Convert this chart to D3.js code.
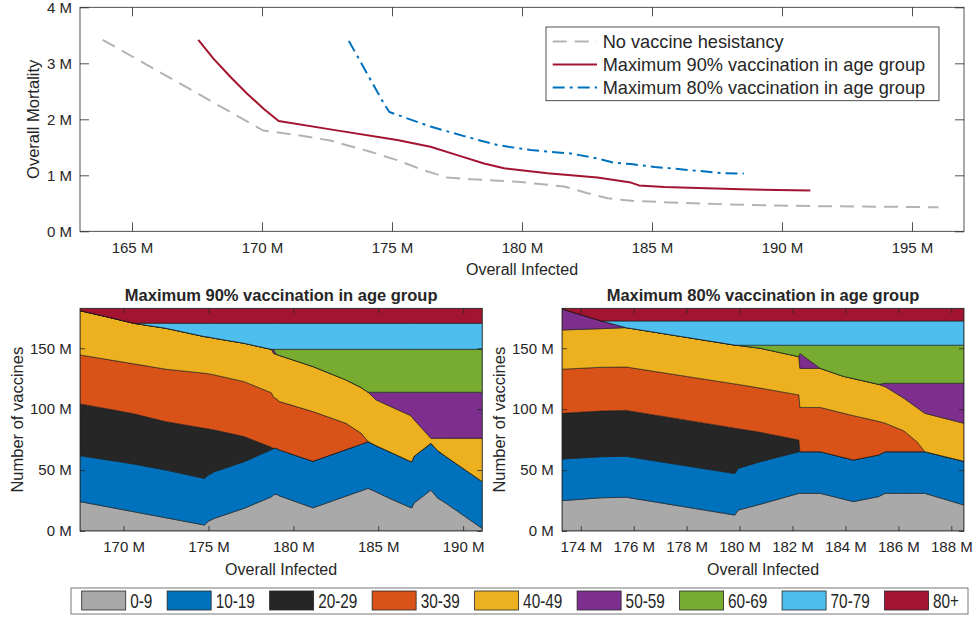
<!DOCTYPE html>
<html>
<head>
<meta charset="utf-8">
<script src="https://cdn.jsdelivr.net/npm/d3@7/dist/d3.min.js"></script>
<style>
body { margin: 0; background: #fff; }
text { font-family: "Liberation Sans", Arial, Helvetica, sans-serif; fill: #262626; }
</style>
</head>
<body>
<script>

// ---- top panel: mortality vs infected (millions) ----
var noHesX = [163.87, 170.04, 171.47, 172.63, 174.17, 175.2, 176.22, 177.12, 178.02, 179.82, 181.62, 182.52, 183.29, 183.8, 184.3, 186.1, 188.68, 191.25, 196.02];
var noHesY = [3.42, 1.80, 1.71, 1.62, 1.42, 1.27, 1.09, 0.96, 0.93, 0.886, 0.80, 0.68, 0.59, 0.565, 0.54, 0.51, 0.47, 0.45, 0.43];
var max90X = [167.55, 168.14, 168.78, 169.42, 170.06, 170.64, 172.63, 175.2, 176.48, 177.51, 178.54, 179.31, 180.98, 182.9, 184.19, 184.5, 185.47, 188.42, 191.09];
var max90Y = [3.42, 3.08, 2.76, 2.46, 2.19, 1.97, 1.82, 1.63, 1.51, 1.36, 1.21, 1.125, 1.035, 0.96, 0.87, 0.82, 0.79, 0.75, 0.73];
var max80X = [173.34, 174.7, 174.9, 175.2, 176.48, 177.77, 179.05, 180.33, 181.87, 182.9, 183.5, 184.19, 185.1, 186.75, 187.65, 188.53];
var max80Y = [3.40, 2.27, 2.13, 2.08, 1.87, 1.70, 1.54, 1.45, 1.39, 1.30, 1.23, 1.20, 1.15, 1.08, 1.04, 1.03];
var lineNames = ["No vaccine hesistancy", "Maximum 90% vaccination in age group", "Maximum 80% vaccination in age group"];

var topXTicks = [165, 170, 175, 180, 185, 190, 195];
var topYTicks = [0, 1, 2, 3, 4];

// ---- bottom panels: vaccines per age group (millions) ----
var ageGroups = ["0-9", "10-19", "20-29", "30-39", "40-49", "50-59", "60-69", "70-79", "80+"];
var ageColors = ["#a9a9a9", "#0072bd", "#262626", "#d95319", "#edb120", "#7e2f8e", "#77ac30", "#4dbeee", "#a2142f"];

var inf90 = [167.43, 169.0, 170.6, 172.5, 174.76, 175.0, 175.35, 177.1, 178.7, 178.85, 179.0, 179.19, 181.15, 183.1, 184.0, 184.4, 184.88, 185.66, 186.84, 186.98, 187.1, 188.1, 188.5, 189.0, 191.13];
// one row per age group, one value per point of inf90
var vac90 = [
  [24.1, 20.0, 15.8, 10.8, 4.9, 8.0, 10.4, 18.6, 28.0, 29.8, 30.1, 28.8, 19.0, 28.6, 33.0, 35.0, 32.0, 26.8, 19.6, 19.0, 22.8, 33.6, 27.0, 22.7, 2.0],
  [37.7, 38.5, 39.2, 39.2, 38.3, 38.0, 38.3, 38.3, 38.8, 37.9, 37.8, 37.7, 38.2, 38.2, 38.3, 38.3, 38.0, 38.3, 37.9, 37.9, 38.4, 38.4, 39.0, 38.3, 38.5],
  [42.5, 41.9, 41.2, 39.7, 41.1, 37.8, 34.2, 20.6, 2.0, 0, 0, 0, 0, 0, 0, 0, 0, 0, 0, 0, 0, 0, 0, 0, 0],
  [40.2, 40.5, 41.0, 43.1, 45.2, 45.2, 45.2, 45.1, 44.7, 41.8, 40.7, 39.7, 40.8, 21.6, 8.9, 0.2, 0, 0, 0, 0, 0, 0, 0, 0, 0],
  [36.4, 35.0, 33.3, 33.6, 30.1, 30.2, 30.1, 31.5, 35.6, 36.0, 36.4, 37.8, 37.0, 35.6, 37.5, 40.4, 37.6, 37.5, 37.7, 36.9, 30.3, 4.1, 10.1, 15.1, 35.6],
  [0, 0, 0, 0, 0, 0, 0, 0, 0, 3.0, 0, 0, 0, 0, 0, 0, 6.3, 11.3, 18.7, 20.1, 22.4, 37.8, 37.8, 37.8, 37.8],
  [0, 0, 0, 0, 0, 0, 0, 0, 0, 0.6, 4.1, 5.1, 14.1, 25.1, 31.4, 35.2, 35.2, 35.2, 35.2, 35.2, 35.2, 35.2, 35.2, 35.2, 35.2],
  [0, 0, 0, 4.1, 10.9, 11.3, 12.3, 16.4, 21.4, 21.4, 21.4, 21.4, 21.4, 21.4, 21.4, 21.4, 21.4, 21.4, 21.4, 21.4, 21.4, 21.4, 21.4, 21.4, 21.4],
  [1.9, 6.9, 12.3, 12.3, 12.3, 12.3, 12.3, 12.3, 12.3, 12.3, 12.3, 12.3, 12.3, 12.3, 12.3, 12.3, 12.3, 12.3, 12.3, 12.3, 12.3, 12.3, 12.3, 12.3, 12.3]
];

var inf80 = [173.29, 174.78, 175.72, 179.82, 179.95, 180.78, 182.24, 182.28, 183.05, 183.93, 184.3, 185.25, 185.5, 186.2, 186.7, 187.0, 188.48];
var vac80 = [
  [24.9, 27.3, 27.7, 13.1, 17.2, 21.9, 30.9, 30.9, 30.9, 26.1, 24.1, 28.2, 30.9, 30.9, 30.9, 30.9, 21.3],
  [34.2, 33.7, 33.6, 34.1, 34.3, 35.0, 34.2, 34.2, 34.2, 34.2, 34.2, 34.2, 34.2, 34.2, 34.2, 34.2, 35.9],
  [37.5, 37.5, 37.7, 37.2, 32.5, 24.1, 9.6, 0, 0, 0, 0, 0, 0, 0, 0, 0, 0],
  [36.2, 35.9, 35.6, 36.3, 36.3, 36.3, 37.0, 36.3, 36.3, 36.3, 36.4, 27.6, 23.4, 17.2, 8.2, 0, 0],
  [32.2, 31.7, 32.3, 31.9, 32.0, 32.7, 31.4, 32.1, 32.1, 30.3, 30.4, 30.4, 30.0, 26.8, 28.0, 31.5, 31.2],
  [17.3, 6.3, 0, 0, 0, 0, 0, 12.3, 0, 0, 0, 0, 2.8, 12.2, 20.0, 24.7, 32.9],
  [0, 0, 0, 0, 0.2, 2.5, 9.4, 6.7, 19.0, 25.6, 27.4, 32.1, 31.2, 31.2, 31.2, 31.2, 31.2],
  [0, 0, 5.5, 19.8, 19.9, 19.9, 19.9, 19.9, 19.9, 19.9, 19.9, 19.9, 19.9, 19.9, 19.9, 19.9, 19.9],
  [0.5, 10.4, 10.4, 10.4, 10.4, 10.4, 10.4, 10.4, 10.4, 10.4, 10.4, 10.4, 10.4, 10.4, 10.4, 10.4, 10.4]
];

var left90XTicks = [170, 175, 180, 185, 190];
var right80XTicks = [174, 176, 178, 180, 182, 184, 186, 188];
var vacYTicks = [0, 50, 100, 150];
var vacTotal = 182.8;

var w = 973, h = 617;
var axisColor = "#262626";

var svg = d3.select("body").append("svg")
    .attr("width", w)
    .attr("height", h);

function fmtM(d) { return d + " M"; }

// box + inward ticks, labels on bottom and left only
function drawAxes(g, x, y, xTicks, yTicks, tick, xPad, yPad, fs) {
    var x0 = x.range()[0], x1 = x.range()[1];
    var y0 = y.range()[0], y1 = y.range()[1];

    g.append("g").attr("transform", "translate(0," + y0 + ")")
      .call(d3.axisBottom(x).tickValues(xTicks).tickFormat(fmtM).tickSizeInner(-tick).tickSizeOuter(0).tickPadding(xPad));
    g.append("g").attr("transform", "translate(0," + y1 + ")")
      .call(d3.axisTop(x).tickValues(xTicks).tickFormat("").tickSizeInner(-tick).tickSizeOuter(0));
    g.append("g").attr("transform", "translate(" + x0 + ",0)")
      .call(d3.axisLeft(y).tickValues(yTicks).tickFormat(fmtM).tickSizeInner(-tick).tickSizeOuter(0).tickPadding(yPad));
    g.append("g").attr("transform", "translate(" + x1 + ",0)")
      .call(d3.axisRight(y).tickValues(yTicks).tickFormat("").tickSizeInner(-tick).tickSizeOuter(0));

    g.selectAll(".domain").remove();
    g.selectAll(".tick line").attr("stroke", axisColor).attr("stroke-width", 0.8);
    g.selectAll(".tick text").style("font-size", fs + "px").attr("fill", axisColor)
      .style("font-family", '"Liberation Sans", Arial, sans-serif');

    g.append("rect")
      .attr("x", x0).attr("y", y1)
      .attr("width", x1 - x0).attr("height", y0 - y1)
      .attr("fill", "none").attr("stroke", axisColor).attr("stroke-width", 0.8);
}

// ---------- top panel ----------
var xTop = d3.scaleLinear().domain([163, 197]).range([80, 964]);
var yTop = d3.scaleLinear().domain([0, 4]).range([231.3, 7.3]);

var topPanel = svg.append("g");

var series = [
    { xs: noHesX, ys: noHesY, color: "#b3b3b3", dash: "14,8" },
    { xs: max90X, ys: max90Y, color: "#a2142f", dash: null },
    { xs: max80X, ys: max80Y, color: "#0072bd", dash: "12,5,3,5" }
];

var line = d3.line()
    .x(function (d) { return xTop(d[0]); })
    .y(function (d) { return yTop(d[1]); });

topPanel.selectAll(".mline")
    .data(series)
    .enter()
    .append("path")
    .classed("mline", true)
    .attr("d", function (s) { return line(d3.zip(s.xs, s.ys)); })
    .attr("fill", "none")
    .attr("stroke", function (s) { return s.color; })
    .attr("stroke-width", 2)
    .attr("stroke-linejoin", "round")
    .attr("stroke-dasharray", function (s) { return s.dash; });

drawAxes(topPanel, xTop, yTop, topXTicks, topYTicks, 9, 11.5, 8, 15);

topPanel.append("text")
    .attr("x", 522).attr("y", 275)
    .attr("text-anchor", "middle")
    .style("font-size", "16px")
    .text("Overall Infected");

topPanel.append("text")
    .attr("transform", "translate(38.5,119.3) rotate(-90)")
    .attr("text-anchor", "middle")
    .style("font-size", "16.5px")
    .text("Overall Mortality");

// legend of top panel
var lg = topPanel.append("g");
lg.append("rect")
    .attr("x", 546).attr("y", 27)
    .attr("width", 393).attr("height", 73.7)
    .attr("fill", "#fff").attr("stroke", axisColor).attr("stroke-width", 0.8);

var rows = lg.selectAll(".lrow")
    .data(series)
    .enter()
    .append("g")
    .classed("lrow", true)
    .attr("transform", function (d, i) { return "translate(0," + (41.5 + i * 23) + ")"; });

rows.append("line")
    .attr("x1", 552.7).attr("x2", 597)
    .attr("stroke", function (s) { return s.color; })
    .attr("stroke-width", 2)
    .attr("stroke-dasharray", function (s) { return s.dash; });

rows.append("text")
    .attr("x", 602.7).attr("dy", "0.35em")
    .style("font-size", "18.2px")
    .attr("fill", "#000")
    .text(function (d, i) { return lineNames[i]; });

// ---------- bottom panels ----------
var yVac = d3.scaleLinear().domain([0, vacTotal]).range([531, 308.3]);

function stackPanel(id, xs, vals, xRange, xTicks, title, yLabelX) {
    var x = d3.scaleLinear().domain(d3.extent(xs)).range(xRange);
    var g = svg.append("g");

    var table = xs.map(function (xv, i) {
        var row = { x: xv };
        ageGroups.forEach(function (a, k) { row[a] = vals[k][i]; });
        return row;
    });
    var layers = d3.stack().keys(ageGroups)(table);

    var area = d3.area()
        .x(function (d) { return x(d.data.x); })
        .y0(function (d) { return yVac(d[0]); })
        .y1(function (d) { return yVac(d[1]); });

    g.append("clipPath").attr("id", id)
      .append("rect")
      .attr("x", xRange[0]).attr("y", 308.3)
      .attr("width", xRange[1] - xRange[0]).attr("height", 531 - 308.3);

    g.append("g").attr("clip-path", "url(#" + id + ")")
      .selectAll(".layer")
      .data(layers)
      .enter()
      .append("path")
      .classed("layer", true)
      .attr("d", area)
      .attr("fill", function (d, i) { return ageColors[i]; })
      .attr("stroke", "#1a1a1a")
      .attr("stroke-width", 0.6)
      .attr("stroke-linejoin", "round");

    drawAxes(g, x, yVac, xTicks, vacYTicks, 5, 10.7, 8.3, 15);

    var cx = (xRange[0] + xRange[1]) / 2;
    g.append("text")
      .attr("x", cx).attr("y", 301)
      .attr("text-anchor", "middle")
      .style("font-size", "16.5px").style("font-weight", "bold")
      .attr("fill", "#000")
      .text(title);

    g.append("text")
      .attr("x", cx).attr("y", 575)
      .attr("text-anchor", "middle")
      .style("font-size", "16px")
      .text("Overall Infected");

    g.append("text")
      .attr("transform", "translate(" + yLabelX + ",419.7) rotate(-90)")
      .attr("text-anchor", "middle")
      .style("font-size", "16.5px")
      .text("Number of vaccines");
}

stackPanel("clip90", inf90, vac90, [80, 482.3], left90XTicks, lineNames[1], 23);
stackPanel("clip80", inf80, vac80, [562, 964], right80XTicks, lineNames[2], 505);

// ---------- age group legend ----------
var ag = svg.append("g");
ag.append("rect")
    .attr("x", 71).attr("y", 588)
    .attr("width", 897).attr("height", 26)
    .attr("fill", "#fff").attr("stroke", "#555").attr("stroke-width", 0.8);

var sx = 81.7, squeeze = 0.73;
ageGroups.forEach(function (a, i) {
    var e = ag.append("g");
    e.append("rect")
      .attr("x", sx).attr("y", 591)
      .attr("width", 44).attr("height", 19)
      .attr("fill", ageColors[i])
      .attr("stroke", axisColor).attr("stroke-width", 0.8);
    var t = e.append("text")
      .attr("transform", "translate(" + (sx + 48.5) + ",608) scale(" + squeeze + ",1)")
      .style("font-size", "21px")
      .attr("fill", "#000")
      .text(a);
    sx += 44 + 4.5 + t.node().getComputedTextLength() * squeeze + 14.8;
});

</script>
</body>
</html>
